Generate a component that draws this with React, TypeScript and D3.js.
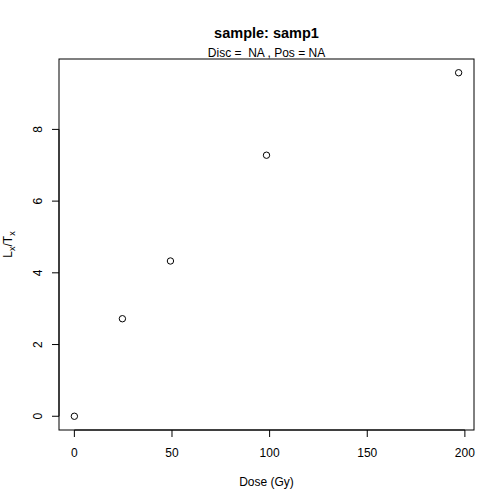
import React from "react";
import * as d3 from "d3";

const doses = [0, 24.6, 49.2, 98.4, 196.8];
const lxtx = [0, 2.72, 4.33, 7.28, 9.58];
const xTicks = [0, 50, 100, 150, 200];
const yTicks = [0, 2, 4, 6, 8];
const title = "sample: samp1";
const subtitle = "Disc =  NA , Pos = NA";
const xLabel = "Dose (Gy)";

const W = 504, H = 504;
const left = 59, right = 474, top = 59, bottom = 430;
const font = "'Liberation Sans', Arial, Helvetica, sans-serif";

export default function App() {
  const xMax = d3.max(doses)!;
  const yMax = d3.max(lxtx)!;
  const xs = d3.scaleLinear().domain([-0.04 * xMax, xMax * 1.04]).range([left, right]);
  const ys = d3.scaleLinear().domain([-0.04 * yMax, yMax * 1.04]).range([bottom, top]);
  const cy = (top + bottom) / 2;
  const cx = (left + right) / 2;
  return (
    <svg width={W} height={H} style={{ position: "absolute", left: 0, top: 0, background: "#fff" }} fontFamily={font}>
      <rect x={0} y={0} width={W} height={H} fill="#fff" />
      <text x={cx} y={38} textAnchor="middle" fontSize={14.5} fontWeight="bold">{title}</text>
      <text x={cx} y={57} textAnchor="middle" fontSize={12} style={{ whiteSpace: "pre" }}>{subtitle}</text>
      <rect x={left} y={top} width={right - left} height={bottom - top} fill="none" stroke="#000" strokeWidth={1} />
      {/* x axis */}
      <line x1={xs(xTicks[0])} x2={xs(xTicks[xTicks.length - 1])} y1={bottom} y2={bottom} stroke="#000" />
      {xTicks.map((t) => (
        <g key={"x" + t}>
          <line x1={xs(t)} x2={xs(t)} y1={bottom} y2={bottom + 7} stroke="#000" />
          <text x={xs(t)} y={457} textAnchor="middle" fontSize={12}>{t}</text>
        </g>
      ))}
      {/* y axis */}
      <line x1={left} x2={left} y1={ys(yTicks[0])} y2={ys(yTicks[yTicks.length - 1])} stroke="#000" />
      {yTicks.map((t) => (
        <g key={"y" + t}>
          <line x1={left - 7} x2={left} y1={ys(t)} y2={ys(t)} stroke="#000" />
          <text x={42} y={ys(t)} textAnchor="middle" fontSize={12} transform={`rotate(-90 42 ${ys(t)})`}>{t}</text>
        </g>
      ))}
      <text x={cx} y={486} textAnchor="middle" fontSize={12}>{xLabel}</text>
      <text x={12} y={cy} textAnchor="middle" fontSize={12} transform={`rotate(-90 12 ${cy})`}>
        <tspan>L</tspan>
        <tspan fontSize={9} dy={3}>x</tspan>
        <tspan dy={-3}>/T</tspan>
        <tspan fontSize={9} dy={3}>x</tspan>
      </text>
      {doses.map((d, i) => (
        <circle key={i} cx={xs(d)} cy={ys(lxtx[i])} r={3.2} fill="none" stroke="#000" strokeWidth={1} />
      ))}
    </svg>
  );
}
